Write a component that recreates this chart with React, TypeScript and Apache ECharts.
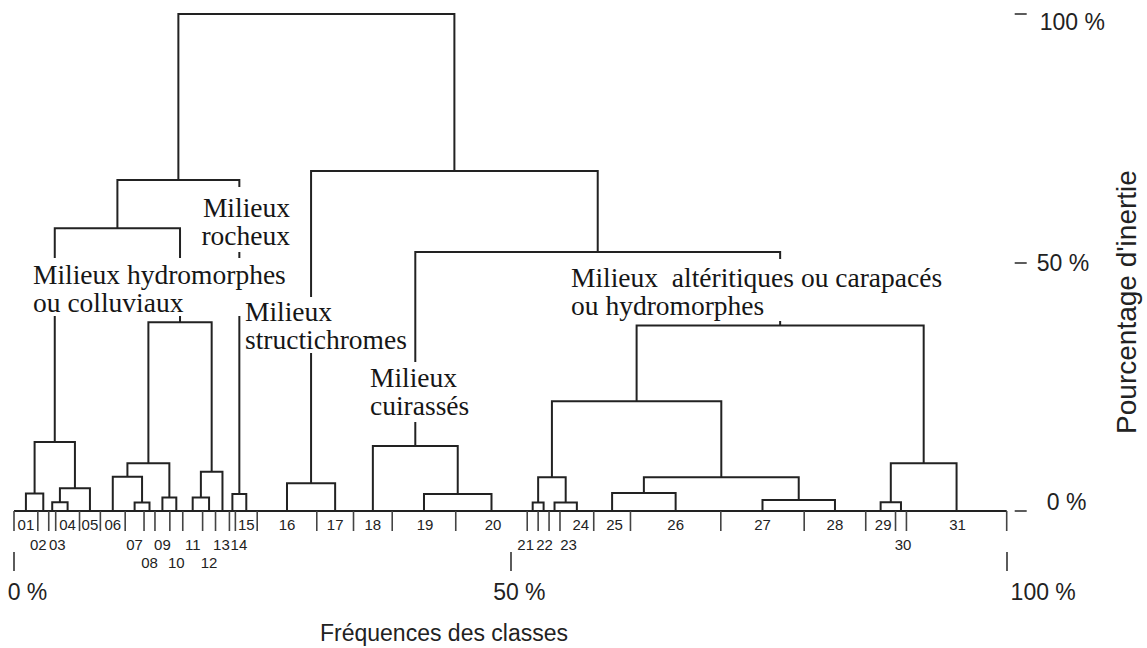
import React, { useEffect, useRef } from "react";
import * as echarts from "echarts";

// ---------- DATA ----------
const classLabels = [
  "01", "02", "03", "04", "05", "06", "07", "08", "09", "10",
  "11", "12", "13", "14", "15", "16", "17", "18", "19", "20",
  "21", "22", "23", "24", "25", "26", "27", "28", "29", "30", "31",
];
// class frequencies (% of the total), read from the baseline intervals
const classFrequencies = [
  2.4, 1.1, 0.7, 2.4, 2.1, 2.5, 1.9, 1.1, 1.5, 1.3,
  2.0, 1.3, 1.4, 0.6, 2.2, 6.0, 3.7, 3.9, 6.4, 7.2,
  1.1, 1.1, 1.1, 3.4, 3.7, 9.1, 8.4, 6.2, 3.0, 1.1, 10.1,
];
// hierarchical merges: leaves are 0..30, merge i creates node 31 + i
const mergeLeft = [0, 2, 32, 31, 6, 5, 8, 36, 10, 39, 38, 34, 13, 42, 15, 18, 17, 20, 22, 48, 24, 26, 51, 50, 28, 55, 54, 47, 45, 44];
const mergeRight = [1, 3, 4, 33, 7, 35, 9, 37, 11, 12, 40, 41, 14, 43, 16, 19, 46, 21, 23, 49, 25, 27, 52, 53, 29, 30, 56, 57, 58, 59];
// merge heights (% of inertia)
const mergeHeights = [
  3.5, 1.75, 4.6, 13.9, 1.7, 6.9, 2.7, 9.6, 2.7, 7.9,
  38.0, 56.9, 3.4, 66.6, 5.6, 3.4, 13.1, 1.7, 1.7, 6.8,
  3.6, 2.2, 6.8, 22.1, 1.75, 9.6, 37.3, 52.1, 68.4, 100,
];
const xTickValues = [0, 50, 100];
const yTickValues = [0, 50, 100];
const xAxisName = "Fréquences des classes";
const yAxisName = "Pourcentage d'inertie";
const groupNames = [
  "Milieux\nrocheux",
  "Milieux hydromorphes\nou colluviaux",
  "Milieux\nstructichromes",
  "Milieux\ncuirassés",
  "Milieux  altéritiques ou carapacés\nou hydromorphes",
];

// ---------- LAYOUT (pixels) ----------
const W = 1147;
const H = 648;
const labelRow = [1, 2, 2, 1, 1, 1, 2, 3, 2, 3, 2, 3, 2, 2, 1, 1, 1, 1, 1, 1, 2, 2, 2, 1, 1, 1, 1, 1, 1, 2, 1];
const labelNudge = [0, -5, 5, 0, 0, 0, 0, 0, 0, 0, 0, 0, -1, 6.5, 0, 0, 0, 0, 1, 1.5, -7, 1, 14, 4, 2.5, 0, 0, 0, 2.5, 2, 1];
const rowOffset = [0, 13, 33, 51.5];
const LINE_H = 28;
const groupLayout = [
  { x: 290, align: "right", y: 207, bg: [200, 187, 91, 65] },
  { x: 33, align: "left", y: 274, bg: [31, 258, 260, 58] },
  { x: 245, align: "left", y: 311, bg: [243, 297, 167, 56] },
  { x: 370, align: "left", y: 377, bg: [368, 362, 89, 60] },
  { x: 571, align: "left", y: 277, bg: [569, 259, 409, 62] },
];

const SANS = "'Liberation Sans', Arial, Helvetica, sans-serif";
const SERIF = "'Liberation Serif', 'Times New Roman', serif";

export default function App() {
  const ref = useRef<HTMLDivElement>(null);

  useEffect(() => {
    document.body.style.margin = "0";
    if (!ref.current) return;
    const chart = echarts.init(ref.current, undefined, { renderer: "svg" });

    // class bounds & centers
    const bounds: number[] = [0];
    classFrequencies.forEach((f) => bounds.push(bounds[bounds.length - 1] + f));
    const centers = classFrequencies.map((_, i) => (bounds[i] + bounds[i + 1]) / 2);

    // node positions
    const nodeX: number[] = [...centers];
    const nodeH: number[] = centers.map(() => 0);
    const dendroLines: any[] = [];
    mergeLeft.forEach((l, i) => {
      const r = mergeRight[i];
      const h = mergeHeights[i];
      dendroLines.push({
        coords: [
          [nodeX[l], nodeH[l]],
          [nodeX[l], h],
          [nodeX[r], h],
          [nodeX[r], nodeH[r]],
        ],
      });
      nodeX.push((nodeX[l] + nodeX[r]) / 2);
      nodeH.push(h);
    });

    const graphics: any[] = [];
    groupNames.forEach((txt, gi) => {
      const g = groupLayout[gi];
      graphics.push({
        type: "rect",
        z: 10,
        shape: { x: g.bg[0], y: g.bg[1], width: g.bg[2], height: g.bg[3] },
        style: { fill: "#ffffff" },
        silent: true,
      });
      graphics.push({
        type: "text",
        z: 11,
        x: g.x,
        y: g.y - LINE_H / 2,
        style: {
          text: txt,
          fontSize: 27.5,
          fontFamily: SERIF,
          lineHeight: LINE_H,
          fill: "#161616",
          align: g.align,
          textAlign: g.align,
          verticalAlign: "top",
          textVerticalAlign: "top",
        },
      });
    });
    graphics.push({
      type: "text",
      z: 11,
      x: 444,
      y: 633,
      style: {
        text: xAxisName,
        fontSize: 23,
        fontFamily: SANS,
        fill: "#222",
        align: "center",
        textAlign: "center",
        verticalAlign: "middle",
        textVerticalAlign: "middle",
      },
    });
    graphics.push({
      type: "text",
      z: 11,
      x: 1126,
      y: 302,
      rotation: Math.PI / 2,
      style: {
        text: yAxisName,
        fontSize: 28,
        fontFamily: SANS,
        fill: "#222",
        align: "center",
        textAlign: "center",
        verticalAlign: "middle",
        textVerticalAlign: "middle",
      },
    });

    const xRich: any = {};
    const xPad: Record<number, number> = { 0: 27, 50: 18, 100: 73 };
    xTickValues.forEach((v) => {
      xRich["x" + v] = { fontSize: 23, fontFamily: SANS, color: "#222", padding: [0, 0, 0, xPad[v]] };
    });
    const yRich: any = {
      y100: { fontSize: 23, fontFamily: SANS, color: "#222", padding: [16, 0, 0, 3] },
      y50: { fontSize: 23, fontFamily: SANS, color: "#222", padding: [0, 0, 0, 0] },
      y0: { fontSize: 23, fontFamily: SANS, color: "#222", padding: [0, 0, 18, 10] },
    };

    const option: any = {
      animation: false,
      backgroundColor: "#ffffff",
      grid: { left: 14, right: W - 1006.7, top: 14, bottom: H - 511, containLabel: false },
      xAxis: {
        type: "value",
        min: 0,
        max: 100,
        interval: 50,
        position: "bottom",
        offset: 41,
        axisLine: { show: false, onZero: false },
        axisTick: { show: true, length: 19, lineStyle: { color: "#333", width: 1.6 } },
        splitLine: { show: false },
        axisLabel: {
          margin: 28,
          showMinLabel: true,
          showMaxLabel: true,
          formatter: (v: number) => (xTickValues.includes(v) ? `{x${v}|${v} %}` : ""),
          rich: xRich,
        },
      },
      yAxis: {
        type: "value",
        min: 0,
        max: 100,
        interval: 50,
        position: "right",
        offset: 8,
        axisLine: { show: false, onZero: false },
        axisTick: { show: true, length: 12, lineStyle: { color: "#333", width: 1.6 } },
        splitLine: { show: false },
        axisLabel: {
          margin: 22,
          showMinLabel: true,
          showMaxLabel: true,
          formatter: (v: number) => (yTickValues.includes(v) ? `{y${v}|${v} %}` : ""),
          rich: yRich,
        },
      },
      graphic: graphics,
      series: [
        {
          type: "lines",
          coordinateSystem: "cartesian2d",
          polyline: true,
          clip: false,
          silent: true,
          lineStyle: { color: "#222", width: 2, opacity: 1 },
          data: dendroLines,
        },
        {
          type: "lines",
          coordinateSystem: "cartesian2d",
          polyline: true,
          clip: false,
          silent: true,
          lineStyle: { color: "#222", width: 2, opacity: 1 },
          data: [{ coords: [[bounds[0], 0], [bounds[bounds.length - 1], 0]] }],
        },
        {
          type: "custom",
          coordinateSystem: "cartesian2d",
          clip: false,
          silent: true,
          data: bounds.map((b) => [b, 0]),
          renderItem: (_p: any, api: any) => {
            const pt = api.coord([api.value(0), 0]);
            return {
              type: "line",
              shape: { x1: pt[0], y1: pt[1], x2: pt[0], y2: pt[1] + 20 },
              style: { stroke: "#444", lineWidth: 1.6 },
            };
          },
        },
        {
          type: "custom",
          coordinateSystem: "cartesian2d",
          clip: false,
          silent: true,
          data: centers.map((c, i) => [c, 0, i]),
          renderItem: (_p: any, api: any) => {
            const idx = api.value(2);
            const pt = api.coord([api.value(0), 0]);
            return {
              type: "text",
              x: pt[0] + labelNudge[idx],
              y: pt[1] + rowOffset[labelRow[idx]],
              style: {
                text: classLabels[idx],
                fontSize: 15,
                fontFamily: SANS,
                fill: "#222",
                align: "center",
                textAlign: "center",
                verticalAlign: "middle",
                textVerticalAlign: "middle",
              },
            };
          },
        },
      ],
    };

    chart.setOption(option);
    return () => chart.dispose();
  }, []);

  return <div ref={ref} style={{ width: W, height: H }} />;
}
